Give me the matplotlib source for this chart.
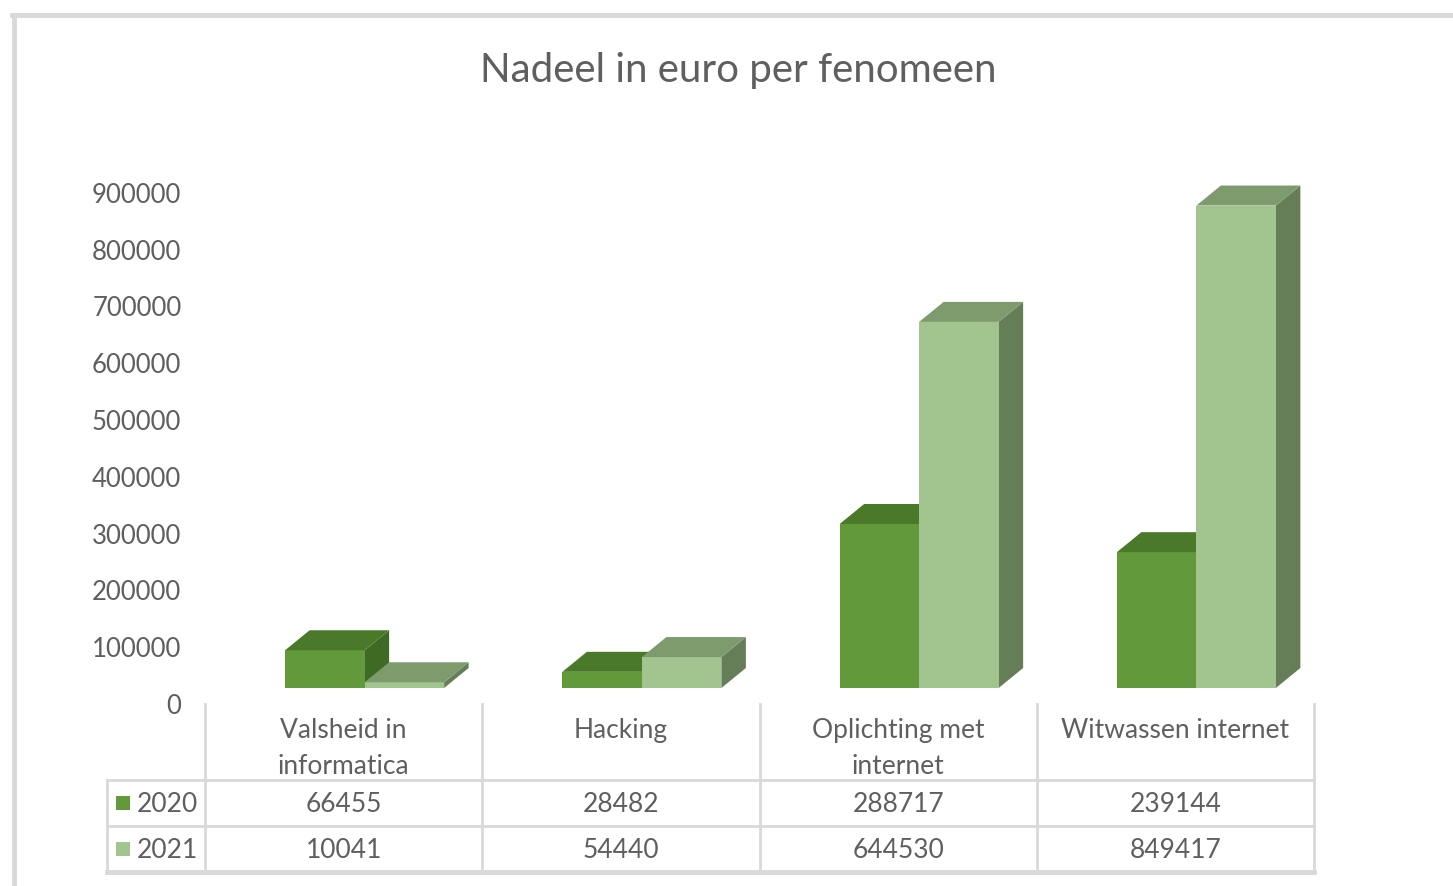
import matplotlib
matplotlib.use("Agg")
import matplotlib.pyplot as plt
from matplotlib.patches import Polygon, Rectangle
from matplotlib.lines import Line2D
import matplotlib.transforms as mtransforms

# ---- data ----
categories = ["Valsheid in\ninformatica", "Hacking", "Oplichting met\ninternet", "Witwassen internet"]
series_names = ["2020", "2021"]
values_2020 = [66455, 28482, 288717, 239144]
values_2021 = [10041, 54440, 644530, 849417]
yticks = [0, 100000, 200000, 300000, 400000, 500000, 600000, 700000, 800000, 900000]
title = "Nadeel in euro per fenomeen"

# ---- style ----
W, H = 1453, 886
DPI = 100
FONT = "Lato"
TXT = "#5f5f5f"
GRID = "#d9d9d9"
front_cols = ["#62993b", "#a2c48e"]
top_cols = ["#4a7a29", "#7d9b6c"]
side_cols = ["#3f6a24", "#657e58"]

fig = plt.figure(figsize=(W / DPI, H / DPI), dpi=DPI)
fig.patch.set_facecolor("white")

def px_x(x):
    return x / W

def px_y(y):
    return 1 - y / H

# main plotting axes: x from 205 to 1314 px, y base (front) at 688 px
ax_left, ax_right = 205, 1314
ax_bottom_px, ax_top_px = 688, 148
ymax = (ax_bottom_px - ax_top_px) / 0.000568
ax = fig.add_axes([px_x(ax_left), px_y(ax_bottom_px),
                   (ax_right - ax_left) / W, (ax_bottom_px - ax_top_px) / H])
ax.set_xlim(-0.5, len(categories) - 0.5)
ax.set_ylim(0, ymax)
for s in ax.spines.values():
    s.set_visible(False)
ax.set_xticks([])
ax.set_yticks(yticks)
ax.set_yticklabels([str(v) for v in yticks], fontsize=18.5, color=TXT, family=FONT)
ax.tick_params(axis="y", length=0, pad=17)
offset = mtransforms.ScaledTranslation(0, -16 / DPI, fig.dpi_scale_trans)
for lab in ax.get_yticklabels():
    lab.set_transform(lab.get_transform() + offset)

cat_px = (ax_right - ax_left) / len(categories)
bw = 79.5 / cat_px
shift = 21 / cat_px
ddx = 24.5 / cat_px
ddy = 20 / 0.000568

series = [values_2020, values_2021]
for i in range(len(categories)):
    for s, vals in enumerate(series):
        v = vals[i]
        xl = i + shift - bw + s * bw
        xr = xl + bw
        # side face
        ax.add_patch(Polygon([(xr, 0), (xr + ddx, ddy), (xr + ddx, v + ddy), (xr, v)],
                             closed=True, facecolor=side_cols[s], edgecolor="none", zorder=2))
        # front face
        ax.bar([xl], [v], width=bw, align="edge", color=front_cols[s], edgecolor="none", zorder=3)
        # top face
        ax.add_patch(Polygon([(xl, v), (xl + ddx, v + ddy), (xr + ddx, v + ddy), (xr, v)],
                             closed=True, facecolor=top_cols[s], edgecolor="none", zorder=3))

# overlay axes in pixel coordinates for title, table and border
ov = fig.add_axes([0, 0, 1, 1], zorder=-1)
ov.set_xlim(0, W)
ov.set_ylim(H, 0)
ov.axis("off")

# outer border
ov.add_line(Line2D([14, 14], [15, H], color=GRID, lw=3.5))
ov.add_line(Line2D([12, W], [15, 15], color=GRID, lw=3.5))

ov.text(738, 70, title, ha="center", va="center", fontsize=29, color=TXT, family=FONT)

# data table
col_edges = [ax_left + k * cat_px for k in range(len(categories) + 1)]
row_top, row1, row2, row3 = 704, 780, 826, 872
leg_left = 107
for xe in col_edges:
    ov.add_line(Line2D([xe, xe], [row_top, row3], color=GRID, lw=2))
ov.add_line(Line2D([leg_left, leg_left], [row1, row3], color=GRID, lw=2))
for yy in (row1, row2):
    ov.add_line(Line2D([leg_left, ax_right], [yy, yy], color=GRID, lw=2))
ov.add_line(Line2D([leg_left, ax_right], [row3, row3], color=GRID, lw=3.5))

for i, cat in enumerate(categories):
    cx = (col_edges[i] + col_edges[i + 1]) / 2
    ov.text(cx, 718, cat, ha="center", va="top", fontsize=19, color=TXT,
            family=FONT, linespacing=1.55)
    ov.text(cx, (row1 + row2) / 2 + 1, str(values_2020[i]), ha="center", va="center",
            fontsize=19, color=TXT, family=FONT)
    ov.text(cx, (row2 + row3) / 2 + 1, str(values_2021[i]), ha="center", va="center",
            fontsize=19, color=TXT, family=FONT)

for s, (name, yy) in enumerate(zip(series_names, [(row1 + row2) / 2, (row2 + row3) / 2])):
    ov.add_patch(Rectangle((116, yy - 7), 14, 14, facecolor=front_cols[s], edgecolor="none"))
    ov.text(137, yy + 1, name, ha="left", va="center", fontsize=19, color=TXT, family=FONT)

fig.savefig("out.png", dpi=DPI)
